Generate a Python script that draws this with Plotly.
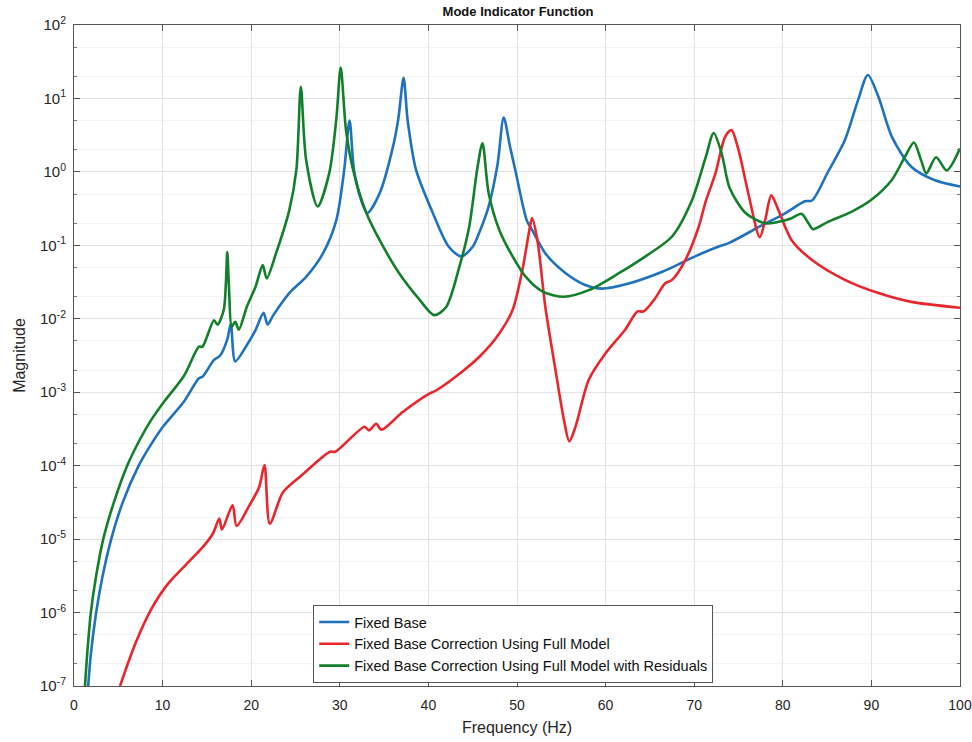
import plotly.graph_objects as go

# ---- data (frequency in Hz, log10 of magnitude) ----
blue_f = [1.6, 1.9, 2.5, 3.2, 4.2, 5.5, 7.3, 8.7, 10.1, 12.4, 14.1, 14.5, 15.8, 16.5,
          17.3, 17.7, 18.2, 19.5, 20.5, 21.4, 21.85, 22.5, 24.3, 26.2, 28.1, 29.6, 30.5,
          31.1, 31.6, 32.4, 33.1, 34.5, 36.0, 36.6, 37.2, 37.65, 38.6, 40.5, 42.3, 43.7,
          45.0, 45.7, 46.8, 47.8, 48.5, 49.2, 49.8, 51.1, 51.7, 53.2, 55.5, 57.7, 59.6,
          62.6, 66.4, 70.1, 72.7, 73.9, 77.3, 80.3, 82.5, 83.3, 85.1, 87.0, 88.5, 89.6,
          90.8, 92.3, 94.5, 97.1, 100.0]
blue_log = [-7.0, -6.57, -6.0, -5.52, -5.0, -4.5, -4.0, -3.71, -3.46, -3.13, -2.81,
            -2.79, -2.56, -2.5, -2.28, -2.07, -2.58, -2.36, -2.15, -1.92, -2.08, -1.95,
            -1.65, -1.43, -1.11, -0.66, 0.03, 0.70, 0.03, -0.38, -0.56, -0.29, 0.34, 0.72,
            1.28, 0.71, 0.03, -0.56, -1.02, -1.15, -1.02, -0.84, -0.47, 0.1, 0.74, 0.35,
            0.03, -0.66, -0.79, -1.11, -1.38, -1.54, -1.59, -1.52, -1.36, -1.15, -1.02,
            -0.97, -0.75, -0.56, -0.40, -0.39, 0.0, 0.43, 0.98, 1.32, 1.02, 0.48, 0.07,
            -0.11, -0.2]

red_f = [5.2, 6.0, 7.0, 8.6, 10.4, 12.7, 14.6, 15.7, 16.4, 16.7, 17.9, 18.35, 19.8, 20.9,
         21.5, 22.1, 23.6, 25.7, 28.9, 29.5, 32.8, 33.3, 34.1, 34.7, 37.1, 40.1, 40.8,
         43.8, 45.9, 48.0, 49.5, 50.6, 51.4, 51.7, 52.3, 53.2, 54.4, 55.3, 55.9, 56.6,
         58.1, 60.0, 62.2, 63.6, 64.3, 65.6, 66.7, 67.5, 69.0, 70.5, 71.3, 72.4, 73.5,
         74.2, 75.0, 76.1, 77.4, 78.0, 78.7, 79.5, 81.0, 83.3, 87.0, 90.8, 94.5, 100.0]
red_log = [-7.0, -6.72, -6.40, -5.98, -5.64, -5.34, -5.10, -4.92, -4.72, -4.87, -4.54,
           -4.82, -4.54, -4.29, -3.99, -4.79, -4.36, -4.13, -3.81, -3.81, -3.47, -3.52,
           -3.43, -3.51, -3.27, -3.02, -2.98, -2.72, -2.5, -2.2, -1.88, -1.34, -0.79,
           -0.63, -0.93, -1.84, -2.74, -3.38, -3.67, -3.47, -2.83, -2.47, -2.15, -1.90,
           -1.90, -1.72, -1.52, -1.47, -1.2, -0.75, -0.40, -0.02, 0.48, 0.57, 0.30,
           -0.29, -0.89, -0.66, -0.32, -0.52, -0.93, -1.20, -1.47, -1.65, -1.77, -1.85]

green_f = [1.24, 1.5, 1.9, 2.5, 3.3, 4.5, 6.0, 7.5, 8.7, 10.1, 12.4, 14.1, 14.5, 15.8,
           16.2, 16.9, 17.15, 17.3, 17.5, 17.8, 18.2, 18.6, 19.5, 20.5, 21.3, 21.75, 22.8,
           24.3, 25.1, 25.6, 26.2, 27.5, 28.8, 29.6, 30.1, 30.7, 31.5, 33.0, 34.5, 36.7,
           39.0, 40.65, 42.0, 43.5, 44.6, 45.5, 46.1, 46.8, 48.0, 49.5, 51.0, 52.9, 55.3,
           58.1, 61.5, 64.5, 67.5, 69.7, 71.3, 72.2, 73.1, 74.0, 75.8, 78.0, 79.5, 81.0,
           82.1, 82.9, 83.4, 85.1, 87.8, 90.0, 92.3, 93.8, 94.8, 95.6, 96.2, 97.3, 98.5,
           100.0]
green_log = [-7.0, -6.55, -6.0, -5.5, -5.0, -4.5, -4.0, -3.63, -3.38, -3.14, -2.78,
             -2.38, -2.38, -2.02, -2.08, -1.88, -1.5, -1.09, -1.6, -2.11, -2.04, -2.15,
             -1.84, -1.56, -1.27, -1.45, -1.11, -0.52, 0.03, 1.16, 0.16, -0.47, -0.02,
             0.71, 1.42, 0.57, 0.03, -0.56, -0.93, -1.38, -1.74, -1.95, -1.84, -1.29,
             -0.75, 0.03, 0.39, -0.29, -0.79, -1.15, -1.43, -1.63, -1.70, -1.61, -1.38,
             -1.15, -0.88, -0.40, 0.2, 0.53, 0.25, -0.22, -0.56, -0.70, -0.68, -0.63,
             -0.57, -0.70, -0.78, -0.68, -0.54, -0.38, -0.11, 0.21, 0.40, 0.16, -0.02,
             0.20, 0.02, 0.32]

series_names = ["Fixed Base",
                "Fixed Base Correction Using Full Model",
                "Fixed Base Correction Using Full Model with Residuals"]
series_colors = ["#1f72bd", "#e8262b", "#12802a"]

y_tick_exps = [-7, -6, -5, -4, -3, -2, -1, 0, 1, 2]
x_ticks = [0, 10, 20, 30, 40, 50, 60, 70, 80, 90, 100]

fig = go.Figure()
for f, lg, name, col in zip([blue_f, red_f, green_f], [blue_log, red_log, green_log],
                            series_names, series_colors):
    fig.add_trace(go.Scatter(
        x=f, y=[10 ** v for v in lg], mode="lines", name=name,
        line=dict(color=col, width=2.6, shape="spline", smoothing=0.8),
    ))

FONT = "Liberation Sans, Arial, sans-serif"
axis_font = dict(family=FONT, size=15, color="#262626")

fig.update_layout(
    width=972, height=742,
    margin=dict(l=74, r=12, t=25, b=56),
    paper_bgcolor="white", plot_bgcolor="white",
    font=axis_font,
    title=dict(text="<b>Mode Indicator Function</b>", x=0.533, xanchor="center",
               y=0.984, yanchor="middle",
               font=dict(family=FONT, size=13, color="#111")),
    showlegend=True,
    legend=dict(x=0.27, y=0.1225, xanchor="left", yanchor="top",
                bgcolor="white", bordercolor="#555", borderwidth=1,
                font=dict(family=FONT, size=14.5, color="#111"),
                tracegroupgap=0, itemwidth=30),
)

fig.update_xaxes(
    range=[0, 100], tickvals=x_ticks, ticktext=[str(t) for t in x_ticks],
    tickfont=dict(size=14),
    ticks="inside", ticklen=6, tickcolor="#555", ticklabelstandoff=6,
    ticklabeloverflow="allow", automargin=False,
    showline=True, linecolor="#555", linewidth=1, mirror="ticks",
    showgrid=True, gridcolor="#e3e3e3", gridwidth=1, zeroline=False,
    title=dict(text="Frequency (Hz)", font=dict(size=16), standoff=10),
)
fig.update_yaxes(
    type="log", range=[-7, 2], automargin=False,
    tickvals=[10 ** e for e in y_tick_exps],
    ticktext=["10<sup>%d</sup>" % e for e in y_tick_exps],
    ticks="inside", ticklen=6, tickcolor="#555", ticklabelstandoff=4,
    showline=True, linecolor="#555", linewidth=1, mirror="ticks",
    showgrid=True, gridcolor="#e3e3e3", gridwidth=1, zeroline=False,
    minor=dict(ticks="inside", ticklen=3, tickcolor="#777", showgrid=True,
               gridcolor="#f3f3f3", gridwidth=1),
    title=dict(text="Magnitude", font=dict(size=16), standoff=10),
)

fig.write_html("out.html")
